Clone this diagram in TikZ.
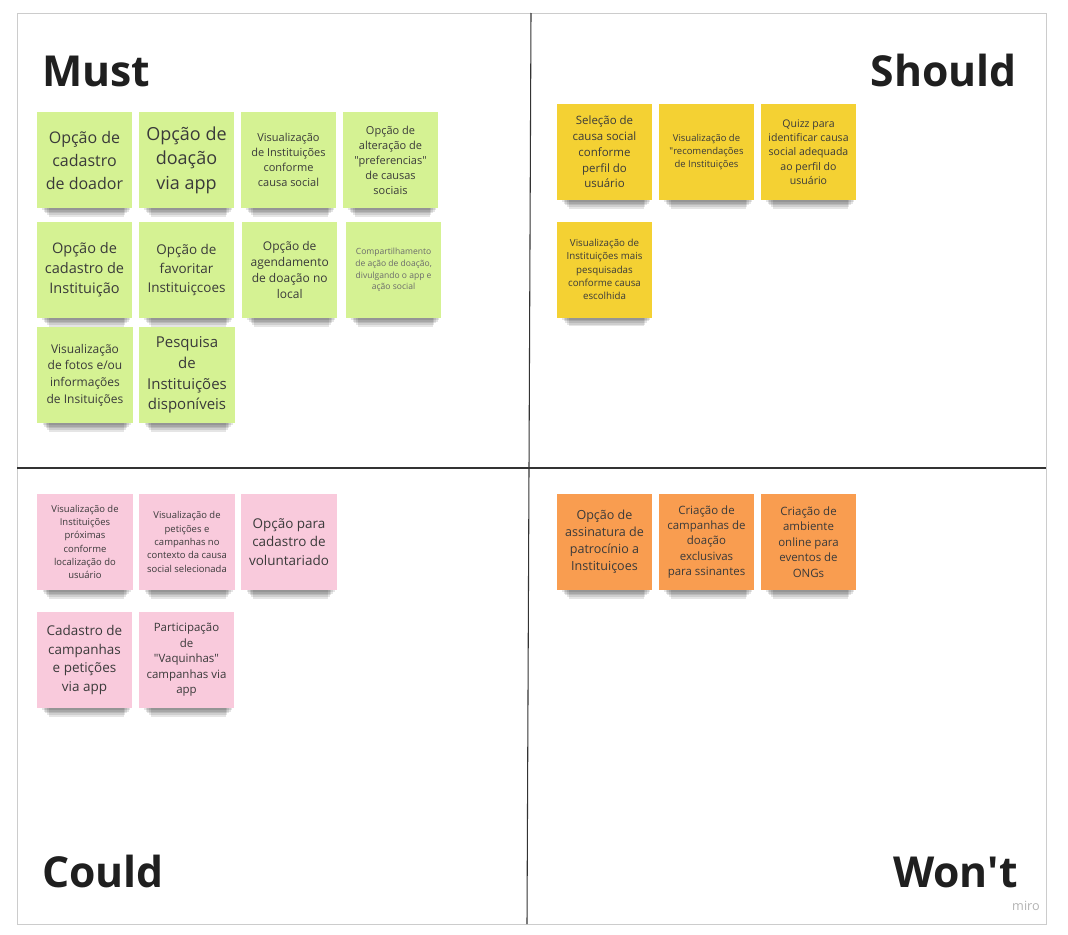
\documentclass[tikz,border=0pt]{standalone}
\usepackage{fontspec}
\setmainfont{Open Sans}
\usetikzlibrary{positioning,backgrounds}

\definecolor{mustgreen}{HTML}{D5F293}
\definecolor{shouldyellow}{HTML}{F4D133}
\definecolor{couldpink}{HTML}{F9CADC}
\definecolor{wontorange}{HTML}{F99D50}
\definecolor{notetext}{HTML}{3A3A3A}

\begin{document}
\begin{tikzpicture}[
    x=0.75pt, y=-0.75pt,
    node distance=4.5pt and 4.6pt,
    note/.style={minimum width=71.5pt, minimum height=72pt, inner sep=0pt, align=center, text=notetext},
    txt/.style 2 args={font=\fontsize{#1}{#2}\selectfont},
    mustnote/.style={note, fill=mustgreen},
    shouldnote/.style={note, fill=shouldyellow},
    couldnote/.style={note, fill=couldpink},
    wontnote/.style={note, fill=wontorange},
    title/.style={font=\fontsize{32}{38}\selectfont\bfseries, text=black!88, inner sep=0pt},
    divider/.style={draw=black!80, line width=0.8pt}
]
    \useasboundingbox (0,0) rectangle (1068,935);

    % Board frame and quadrants
    \draw[black!20] (17,13) rectangle (1046,924);
    \draw[divider] (531,13) -- (527,924);
    \draw[divider] (17,468) -- (1046,468);

    % Titles
    \node[title, anchor=base west] (must) at (42,86) {Must};
    \node[title, anchor=base east] (should) at (1017,86) {Should};
    \node[title, anchor=base west] (could) at (42,887) {Could};
    \node[title, anchor=base east] (wont) at (1018,887) {Won\textquotesingle t};

    % Must
    \node[mustnote, txt={12}{17.25}] (doador) at (84.5,160) {Opção de\\cadastro\\de doador};
    \node[mustnote, txt={13.5}{18.4}, right=of doador] (doacao) {Opção de\\doação\\via app};
    \node[mustnote, txt={8.25}{11.25}, right=of doacao] (visCausa) {Visualização\\de Instituições\\conforme\\causa social};
    \node[mustnote, txt={8.25}{11.25}, right=of visCausa] (prefs) {Opção de\\alteração de\\\textquotedbl preferencias\textquotedbl\\de causas\\sociais};

    \node[mustnote, txt={10.9}{15}] (cadInst) at (84.5,270) {Opção de\\cadastro de\\Instituição};
    \node[mustnote, txt={10.1}{13.9}, right=of cadInst] (favoritar) {Opção de\\favoritar\\Instituiçcoes};
    \node[mustnote, txt={9}{12}, right=5.5pt of favoritar] (agendar) {Opção de\\agendamento\\de doação no\\local};
    \node[mustnote, txt={6.4}{8.8}, text=notetext!75, right=6pt of agendar] (compart) {Compartilhamento\\de ação de doação,\\divulgando o app e\\ação social};

    \node[mustnote, txt={9}{12.5}] (fotos) at (85,375) {Visualização\\de fotos e/ou\\informações\\de Insituições};
    \node[mustnote, txt={11.25}{15.5}, right=of fotos] (pesquisa) {Pesquisa\\de\\Instituições\\disponíveis};

    % Should
    \node[shouldnote, txt={8.6}{11.8}] (selCausa) at (604.5,152) {Seleção de\\causa social\\conforme\\perfil do\\usuário};
    \node[shouldnote, txt={7.1}{9.75}, right=of selCausa] (recom) {Visualização de\\\textquotedbl recomendações\\de Instituições};
    \node[shouldnote, txt={7.9}{10.7}, right=of recom] (quizz) {Quizz para\\identificar causa\\social adequada\\ao perfil do\\usuário};
    \node[shouldnote, txt={7.3}{10}] (maisPesq) at (604.5,269.5) {Visualização de\\Instituições mais\\pesquisadas\\conforme causa\\escolhida};

    % Could
    \node[couldnote, txt={7.1}{9.9}] (proximas) at (85,542) {Visualização de\\Instituições\\próximas\\conforme\\localização do\\usuário};
    \node[couldnote, txt={7.1}{10}, right=of proximas] (peticoes) {Visualização de\\petições e\\campanhas no\\contexto da causa\\social selecionada};
    \node[couldnote, txt={10.1}{13.9}, right=of peticoes] (volunt) {Opção para\\cadastro de\\voluntariado};
    \node[couldnote, txt={10.1}{14}] (campanhas) at (84.5,660) {Cadastro de\\campanhas\\e petições\\via app};
    \node[couldnote, txt={8.6}{11.6}, right=of campanhas] (vaquinhas) {Participação\\de\\\textquotedbl Vaquinhas\textquotedbl\\campanhas via\\app};

    % Won't
    \node[wontnote, txt={9.4}{12.75}] (assinatura) at (604.5,542) {Opção de\\assinatura de\\patrocínio a\\Instituiçoes};
    \node[wontnote, txt={8.6}{11.6}, right=of assinatura] (exclusivas) {Criação de\\campanhas de\\doação\\exclusivas\\para ssinantes};
    \node[wontnote, txt={8.6}{11.7}, right=of exclusivas] (eventos) {Criação de\\ambiente\\online para\\eventos de\\ONGs};

    % Shadows under the notes
    \begin{scope}[on background layer]
        \foreach \n in {doador,doacao,visCausa,prefs,cadInst,favoritar,agendar,compart,fotos,pesquisa,
                        selCausa,recom,quizz,maisPesq,proximas,peticoes,volunt,campanhas,vaquinhas,
                        assinatura,exclusivas,eventos}
            \foreach \i in {1,...,5}
                \fill[black, opacity=0.1] ([xshift={(3+1.2*\i)*1pt}, yshift=1pt]\n.south west)
                    rectangle ([xshift={-(0.5+1.2*\i)*1pt}, yshift={-1.3*\i*1pt}]\n.south east);
    \end{scope}

    \node[text=black!30, font=\fontsize{9.5}{11}\selectfont] (miro) at (1026,906) {miro};
\end{tikzpicture}
\end{document}
